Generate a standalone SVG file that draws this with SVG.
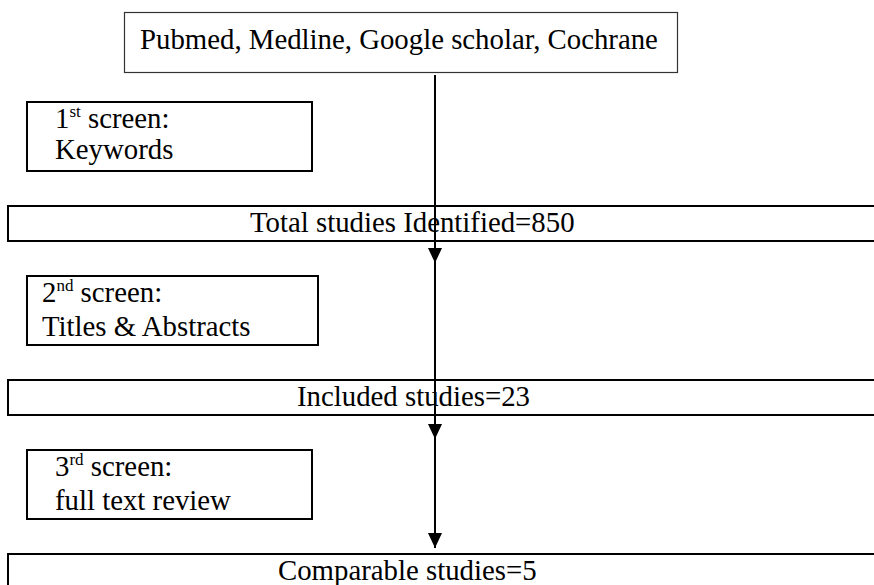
<svg xmlns="http://www.w3.org/2000/svg" width="874" height="585" viewBox="0 0 874 585">
<style>
.t{font-size:28.8px;fill:#000}
.sup{font-size:17px}
.thin{fill:#fff;stroke:#333;stroke-width:1.2}
.box{fill:#fff;stroke:#000;stroke-width:2}
.conn{stroke:#000;stroke-width:2;fill:none}
</style>
<defs>
<marker id="ah" markerWidth="15" markerHeight="14" refX="15" refY="7" orient="auto" markerUnits="userSpaceOnUse" viewBox="0 0 15 14">
<path d="M0,0 L15,7 L0,14 Z" fill="#000"/>
</marker>
</defs>
<g font-family="Liberation Serif, Times New Roman, serif">
<g id="sources">
<rect class="thin" x="124.5" y="12.5" width="553" height="60"/>
<text class="t" x="140" y="49">Pubmed, Medline, Google scholar, Cochrane</text>
</g>
<g id="screen1">
<rect class="box" x="27" y="102" width="285" height="69"/>
<text class="t" x="55" y="128">1<tspan class="sup" dy="-11">st</tspan><tspan dy="11"> screen:</tspan></text>
<text class="t" x="55" y="159">Keywords</text>
</g>
<g id="total">
<rect class="box" x="8" y="206" width="880" height="35"/>
<text class="t" x="250" y="232">Total studies Identified=850</text>
</g>
<g id="screen2">
<rect class="box" x="27" y="276" width="291" height="69"/>
<text class="t" x="42" y="302">2<tspan class="sup" dy="-11">nd</tspan><tspan dy="11"> screen:</tspan></text>
<text class="t" x="42" y="336">Titles &amp; Abstracts</text>
</g>
<g id="included">
<rect class="box" x="8" y="380" width="880" height="35"/>
<text class="t" x="297" y="406">Included studies=23</text>
</g>
<g id="screen3">
<rect class="box" x="27" y="450" width="285" height="69"/>
<text class="t" x="55" y="476">3<tspan class="sup" dy="-11">rd</tspan><tspan dy="11"> screen:</tspan></text>
<text class="t" x="55" y="510">full text review</text>
</g>
<g id="comparable">
<rect class="box" x="8" y="554" width="880" height="60"/>
<text class="t" x="278" y="580">Comparable studies=5</text>
</g>
</g>
<g id="connectors">
<line class="conn" x1="435" y1="75" x2="435" y2="263" marker-end="url(#ah)"/>
<line class="conn" x1="435" y1="263" x2="435" y2="439" marker-end="url(#ah)"/>
<line class="conn" x1="435" y1="439" x2="435" y2="548" marker-end="url(#ah)"/>
</g>
</svg>
